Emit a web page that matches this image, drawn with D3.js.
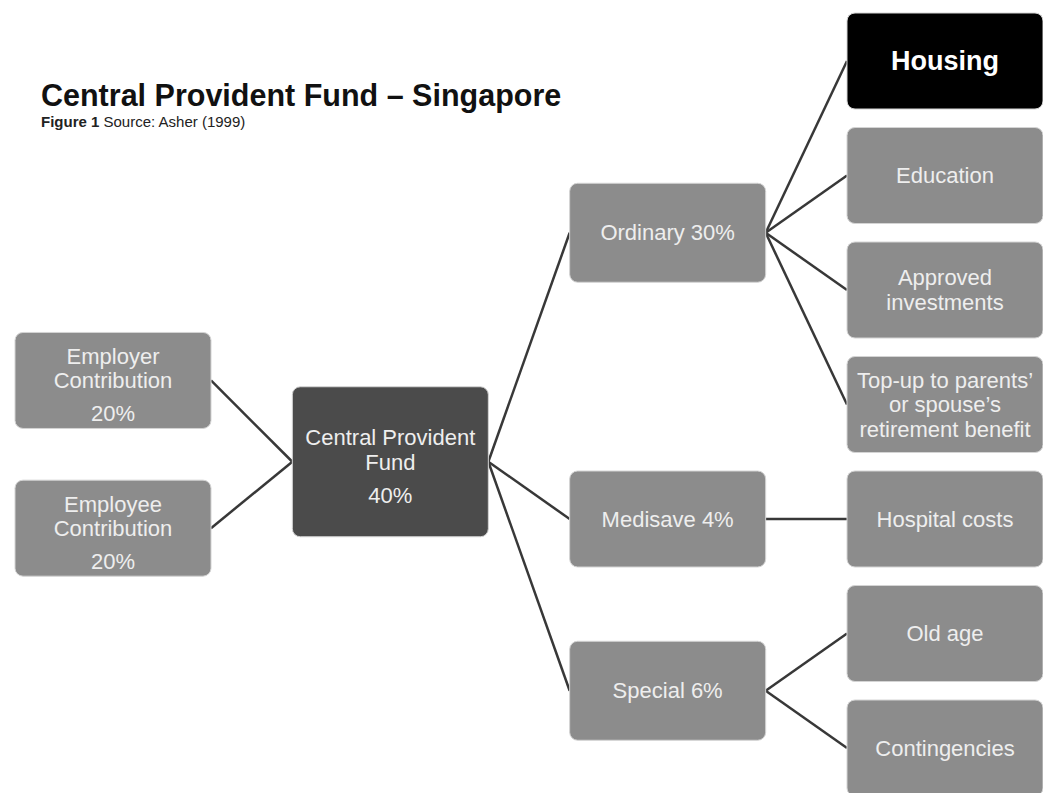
<!DOCTYPE html>
<html>
<head>
<meta charset="utf-8">
<script src="https://cdn.jsdelivr.net/npm/d3@7"></script>
<style>
  body { margin: 0; background: #fff; }
  svg { display: block; font-family: "Liberation Sans", Arial, sans-serif; }
</style>
</head>
<body>
<svg id="chart" width="1043" height="793"></svg>
<script>
// nodes of the flow diagram
var nodeIds = ["employer", "employee", "cpf", "ordinary", "medisave", "special",
               "housing", "education", "investments", "topup", "hospital", "oldage", "contingencies"];
var nodeLabels = [
  [["Employer", "Contribution"], ["20%"]],
  [["Employee", "Contribution"], ["20%"]],
  [["Central Provident", "Fund"], ["40%"]],
  [["Ordinary 30%"]],
  [["Medisave 4%"]],
  [["Special 6%"]],
  [["Housing"]],
  [["Education"]],
  [["Approved", "investments"]],
  [["Top-up to parents\u2019", "or spouse\u2019s", "retirement benefit"]],
  [["Hospital costs"]],
  [["Old age"]],
  [["Contingencies"]]
];
var nodeColumn = [0, 0, 1, 2, 2, 2, 3, 3, 3, 3, 3, 3, 3];
var nodeRow = [2.79, 4.08, 3.5, 1.5, 4, 5.5, 0, 1, 2, 3, 4, 5, 6];
var nodeKind = ["plain", "plain", "dark", "plain", "plain", "plain",
                "black", "plain", "plain", "plain", "plain", "plain", "plain"];

var links = [
  ["employer", "cpf"], ["employee", "cpf"],
  ["cpf", "ordinary"], ["cpf", "medisave"], ["cpf", "special"],
  ["ordinary", "housing"], ["ordinary", "education"], ["ordinary", "investments"], ["ordinary", "topup"],
  ["medisave", "hospital"],
  ["special", "oldage"], ["special", "contingencies"]
];

var titleText = "Central Provident Fund \u2013 Singapore";
var figureLabel = "Figure 1";
var sourceText = " Source: Asher (1999)";

var svg = d3.select("#chart");

var x = d3.scaleLinear().domain([0, 3]).range([15, 847]);
var y = d3.scaleLinear().domain([0, 6]).range([61, 748]);

var boxW = 196;
function boxH(d) {
  if (d.kind === "dark") return 150;
  if (d.column === 2 && d.id !== "medisave") return 99;
  return 96;
}
var fills = { plain: "#8c8c8c", dark: "#4b4b4b", black: "#000" };

var nodes = nodeIds.map(function(id, i) {
  return { id: id, lines: nodeLabels[i], column: nodeColumn[i], row: nodeRow[i], kind: nodeKind[i] };
});
var byId = {};
nodes.forEach(function(d) {
  d.x = x(d.column);
  d.cy = y(d.row);
  d.h = boxH(d);
  byId[d.id] = d;
});

// connectors
svg.append("g")
  .selectAll("line")
  .data(links)
  .enter().append("line")
    .attr("x1", function(l) { return byId[l[0]].x + boxW; })
    .attr("y1", function(l) { return byId[l[0]].cy; })
    .attr("x2", function(l) { return byId[l[1]].x; })
    .attr("y2", function(l) { return byId[l[1]].cy; })
    .attr("stroke", "#383838")
    .attr("stroke-width", 2.5);

var g = svg.append("g")
  .selectAll(".node")
  .data(nodes)
  .enter().append("g")
    .attr("class", "node")
    .attr("transform", function(d) { return "translate(" + d.x + "," + (d.cy - d.h / 2) + ")"; });

g.append("rect")
  .attr("width", boxW)
  .attr("height", function(d) { return d.h; })
  .attr("rx", 8)
  .attr("fill", function(d) { return fills[d.kind]; })
  .attr("stroke", "#d4d4d4")
  .attr("stroke-width", 1);

g.each(function(d) {
  var lineH = 24.5, paraGap = 8.5;
  var items = [], off = 0;
  d.lines.forEach(function(para, pi) {
    if (pi > 0) off += paraGap;
    para.forEach(function(t) { items.push({ t: t, dy: off }); off += lineH; });
  });
  var total = off - lineH;
  var shift = d.lines.length > 1 ? 4.5 : 0;
  d3.select(this).selectAll("text")
    .data(items)
    .enter().append("text")
      .attr("x", boxW / 2)
      .attr("y", function(it) { return d.h / 2 - total / 2 + it.dy + shift; })
      .attr("dy", "0.35em")
      .attr("text-anchor", "middle")
      .attr("fill", d.kind === "black" ? "#fff" : "#eeeeee")
      .attr("font-size", d.kind === "black" ? 27 : 22)
      .attr("font-weight", d.kind === "black" ? "bold" : "normal")
      .text(function(it) { return it.t; });
});

svg.append("text")
  .attr("x", 41)
  .attr("y", 106)
  .attr("font-size", 30.5)
  .attr("font-weight", "bold")
  .attr("fill", "#111")
  .text(titleText);

var sub = svg.append("text")
  .attr("x", 41)
  .attr("y", 127)
  .attr("font-size", 15)
  .attr("fill", "#222");
sub.append("tspan").attr("font-weight", "bold").text(figureLabel);
sub.append("tspan").text(sourceText);
</script>
</body>
</html>
